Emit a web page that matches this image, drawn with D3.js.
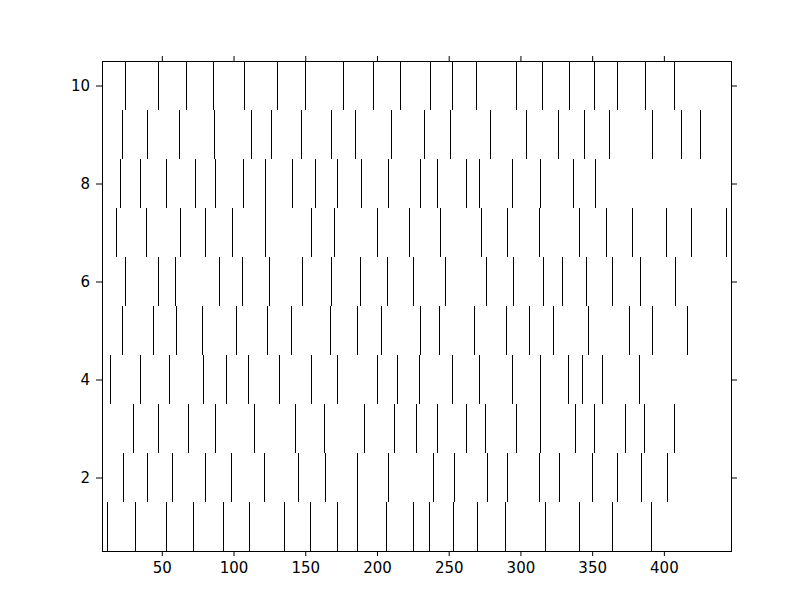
<!DOCTYPE html>
<html>
<head>
<meta charset="utf-8">
<script src="https://cdn.jsdelivr.net/npm/d3@7"></script>
<style>
    body { margin: 0; background: #fff; }
    text { font-family: "DejaVu Sans", sans-serif; }
</style>
</head>
<body>
<script>
// event times, one array per row (row 1 at the bottom)
const row1 = [11.8, 31.2, 53.2, 71.7, 92.8, 110.7, 135.3, 153.5, 172.3, 186.1, 206.4, 225.1, 236.1, 253.2, 269.7, 289.3, 317.3, 341.0, 364.0, 390.8];
const row2 = [22.8, 39.6, 57.2, 80.1, 98.3, 121.4, 145.1, 163.9, 186.1, 207.8, 239.3, 253.5, 276.9, 290.8, 312.7, 326.9, 350.0, 367.6, 384.4, 402.3];
const row3 = [30.1, 47.4, 68.5, 87.0, 114.5, 143.1, 163.0, 191.0, 211.9, 227.2, 241.9, 262.1, 275.4, 297.1, 313.6, 338.2, 351.4, 372.6, 386.4, 406.9];
const row4 = [13.9, 34.7, 55.2, 78.9, 94.8, 110.1, 131.5, 154.0, 172.0, 199.7, 214.2, 229.5, 252.3, 271.4, 293.9, 313.6, 333.2, 343.1, 356.9, 382.4];
const row5 = [22.3, 43.9, 59.8, 77.7, 102.0, 123.4, 140.2, 167.3, 186.1, 202.9, 230.1, 243.4, 267.6, 289.9, 306.1, 322.8, 347.1, 375.7, 391.9, 416.2];
const row6 = [24.6, 47.4, 59.2, 89.9, 106.1, 124.9, 147.7, 167.9, 188.2, 207.2, 225.1, 247.1, 276.3, 294.8, 315.9, 329.2, 346.0, 363.9, 383.5, 407.8];
const row7 = [17.9, 39.0, 62.7, 80.3, 98.8, 121.7, 154.0, 170.2, 199.7, 222.5, 244.2, 272.3, 290.8, 313.0, 340.5, 359.8, 377.5, 401.2, 419.1, 443.1];
const row8 = [21.1, 34.7, 52.6, 73.4, 87.0, 106.4, 122.0, 140.8, 156.9, 172.0, 188.7, 207.8, 230.3, 241.9, 262.1, 271.4, 293.9, 313.6, 336.7, 352.3];
const row9 = [22.3, 39.6, 62.1, 86.1, 112.1, 126.3, 147.1, 167.9, 184.7, 209.8, 233.0, 250.9, 278.9, 304.1, 326.3, 344.5, 361.9, 391.9, 412.1, 425.4];
const row10 = [24.3, 47.4, 66.8, 85.8, 107.2, 130.3, 150.0, 176.3, 197.4, 216.2, 237.0, 252.3, 269.1, 297.1, 315.0, 333.8, 351.4, 367.3, 386.7, 406.9];

const rows = [row1, row2, row3, row4, row5, row6, row7, row8, row9, row10];

const xTicks = [50, 100, 150, 200, 250, 300, 350, 400];
const yTicks = [2, 4, 6, 8, 10];

// figure / axes box
const w = 812, h = 612;
const axLeft = 102, axRight = 731, axTop = 61, axBottom = 551;

const x = d3.scaleLinear().domain([8.3, 446.8]).range([axLeft, axRight]);
const y = d3.scaleLinear().domain([0.5, 10.5]).range([axBottom, axTop]);

const svg = d3.select('body')
    .append('svg')
    .attr('width', w)
    .attr('height', h);

// flatten events into [row offset, time]
let events = [];
rows.forEach((r, i) => r.forEach(t => events.push([i + 1, t])));

svg.append('g')
    .selectAll('line')
    .data(events)
    .enter()
    .append('line')
    .attr('x1', d => Math.round(x(d[1])) + 0.5)
    .attr('x2', d => Math.round(x(d[1])) + 0.5)
    .attr('y1', d => y(d[0] - 0.5))
    .attr('y2', d => y(d[0] + 0.5))
    .attr('stroke', '#000')
    .attr('stroke-width', 1);

// axes, ticks pointing out on all sides
const axisStyle = g => {
    g.select('.domain').remove();
    g.selectAll('.tick line').attr('stroke', '#000');
    g.selectAll('.tick text').attr('fill', '#000').style('font-size', '15px');
};

svg.append('g')
    .attr('transform', `translate(0,${axBottom})`)
    .call(d3.axisBottom(x).tickValues(xTicks).tickSize(5).tickPadding(6))
    .call(axisStyle);

svg.append('g')
    .attr('transform', `translate(0,${axTop})`)
    .call(d3.axisTop(x).tickValues(xTicks).tickSize(5).tickFormat(''))
    .call(axisStyle);

svg.append('g')
    .attr('transform', `translate(${axLeft},0)`)
    .call(d3.axisLeft(y).tickValues(yTicks).tickSize(6).tickPadding(6))
    .call(axisStyle);

svg.append('g')
    .attr('transform', `translate(${axRight},0)`)
    .call(d3.axisRight(y).tickValues(yTicks).tickSize(6).tickFormat(''))
    .call(axisStyle);

// frame
svg.append('rect')
    .attr('x', axLeft + 0.5)
    .attr('y', axTop + 0.5)
    .attr('width', axRight - axLeft)
    .attr('height', axBottom - axTop)
    .attr('fill', 'none')
    .attr('stroke', '#000')
    .attr('stroke-width', 1);
</script>
</body>
</html>
